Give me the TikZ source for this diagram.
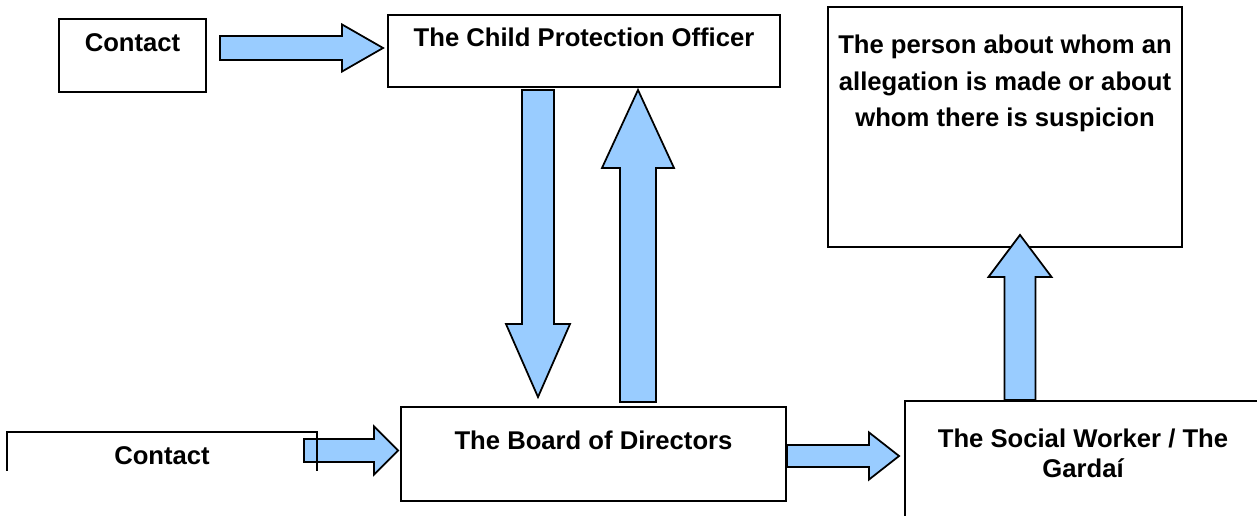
\documentclass[tikz,border=0pt]{standalone}
\usepackage{fontspec}
\setmainfont{Liberation Sans}
\usetikzlibrary{calc}
\definecolor{arrowblue}{RGB}{153,204,255}
\tikzset{
  box/.style = {draw, line width=1.1pt, inner sep=0pt, align=center, font=\bfseries\fontsize{14.6}{21}\selectfont},
  barrow/.style = {draw, fill=arrowblue, line width=1pt, line join=miter}
}
\newcommand{\blockarrow}[5]{%
  \path ($(#2)!#5!(#1)$) coordinate (hb);
  \draw[barrow] ($(#1)!#3!90:(#2)$) -- ($(hb)!#3!90:(#2)$) -- ($(hb)!#4!90:(#2)$) -- (#2)
    -- ($(hb)!#4!-90:(#2)$) -- ($(hb)!#3!-90:(#2)$) -- ($(#1)!#3!-90:(#2)$) -- cycle;}
\begin{document}
\begin{tikzpicture}[x=0.02cm, y=-0.02cm]
\useasboundingbox (0,0) rectangle (1257,516);
\node[box, minimum width=2.94cm, text height=0.66cm, text depth=0.8cm] (contacta) at (132.5,55.5) {Contact};
\node[box, minimum width=7.84cm, text height=0.64cm, text depth=0.8cm] (cpo) at (584,51) {The Child Protection Officer};
\node[box, minimum width=7.08cm, text height=2.4cm, text depth=2.4cm] (person) at (1005,127) {The person about whom an\\allegation is made or about\\whom there is suspicion};
\node[box, minimum width=7.7cm, text height=0.84cm, text depth=1.04cm] (board) at (593.5,454) {The Board of Directors};
\node[box, minimum width=7.12cm, text height=1.54cm, text depth=1.04cm, font=\bfseries\fontsize{14.6}{17.6}\selectfont] (social) at (1083,465.5) {The Social Worker / The\\Garda\'{\i}};
\node[box, draw=none, minimum width=6.16cm, text height=0.64cm, text depth=0.1cm] (contactb) at (162,451.5) {Contact};
% arrow ends
\coordinate (s1) at ($(contacta.east)+(13,-7.5)$);
\coordinate (e1) at ($(cpo.west)+(-4,-3)$);
\coordinate (s2) at ($(cpo.south)+(-46,2)$);
\coordinate (e2) at ($(board.north)+(-55.5,-9)$);
\coordinate (s3) at ($(board.north)+(44.5,-4)$);
\coordinate (e3) at ($(cpo.south)+(54,2)$);
\coordinate (s4) at ($(contactb.east)+(-13,-1)$);
\coordinate (e4) at ($(board.west)+(-2,-3.5)$);
\coordinate (s5) at ($(board.east)+(0,2)$);
\coordinate (e5) at ($(social.west)+(-5,-9.5)$);
\coordinate (s6) at ($(social.north)+(-63,0)$);
\coordinate (e6) at ($(person.south)+(15,-13)$);
\foreach \from/\to/\w/\h/\l in {s1/e1/0.24cm/0.47cm/0.82cm, s2/e2/0.32cm/0.64cm/1.46cm,
  s3/e3/0.36cm/0.72cm/1.56cm, s4/e4/0.23cm/0.48cm/0.48cm,
  s5/e5/0.22cm/0.47cm/0.6cm, s6/e6/0.31cm/0.63cm/0.84cm}
\blockarrow{\from}{\to}{\w}{\h}{\l}
\draw[line width=1.1pt] (contactb.south west) -- (contactb.north west) -- (contactb.north east) -- (contactb.south east);
\end{tikzpicture}
\end{document}
